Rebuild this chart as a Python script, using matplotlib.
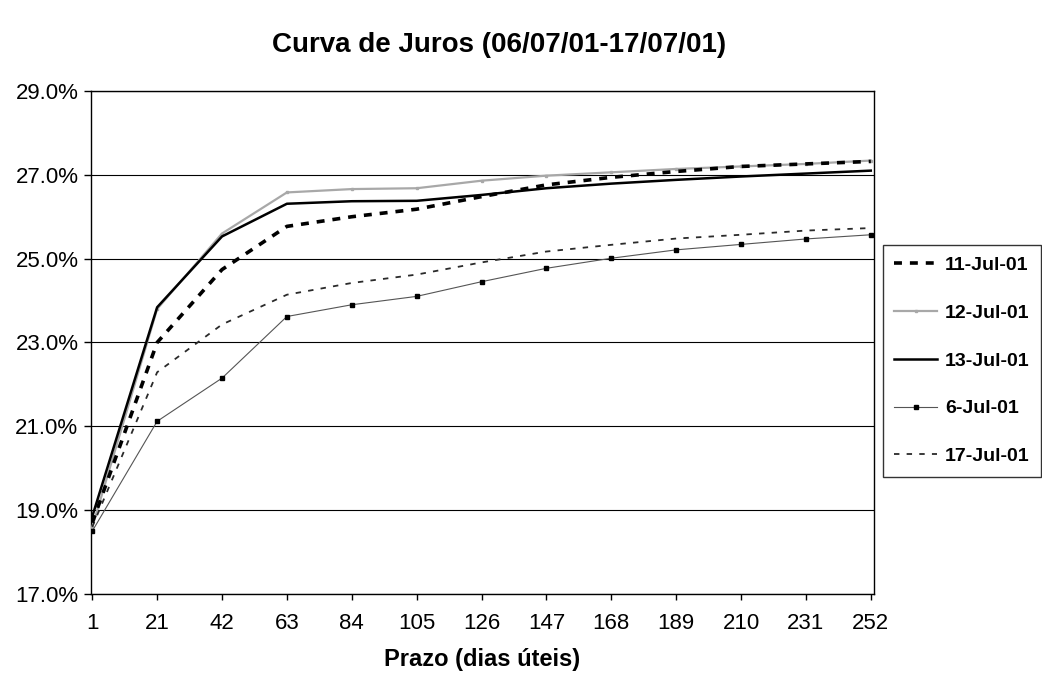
import matplotlib
matplotlib.use('Agg')
import matplotlib.pyplot as plt
from matplotlib.ticker import FuncFormatter

plt.rcParams['font.family'] = ['Liberation Sans', 'DejaVu Sans']

prazos = [1, 21, 42, 63, 84, 105, 126, 147, 168, 189, 210, 231, 252]
jul11 = [18.7, 23.0, 24.74, 25.77, 26.0, 26.18, 26.48, 26.76, 26.94, 27.08, 27.2, 27.26, 27.32]
jul12 = [18.6, 23.8, 25.6, 26.58, 26.66, 26.68, 26.86, 26.98, 27.06, 27.14, 27.2, 27.26, 27.34]
jul13 = [18.85, 23.84, 25.53, 26.31, 26.37, 26.38, 26.52, 26.68, 26.79, 26.88, 26.96, 27.03, 27.1]
jul06 = [18.5, 21.12, 22.15, 23.62, 23.9, 24.1, 24.45, 24.77, 25.01, 25.21, 25.34, 25.47, 25.57]
jul17 = [18.6, 22.29, 23.43, 24.14, 24.42, 24.62, 24.91, 25.17, 25.33, 25.48, 25.57, 25.67, 25.73]

x = list(range(len(prazos)))

fig = plt.figure(figsize=(10.42, 6.74), dpi=100)
ax = fig.add_axes([0.0873, 0.1187, 0.7515, 0.7463])

ax.plot(x, jul11, color='black', lw=2.6, dashes=(2.2, 2.2), label='11-Jul-01', zorder=4)
ax.plot(x, jul12, color='#a8a8a8', lw=1.6, marker='s', markersize=2, label='12-Jul-01', zorder=3)
ax.plot(x, jul13, color='black', lw=1.8, label='13-Jul-01', zorder=3)
ax.plot(x, jul06, color='#555555', lw=0.8, marker='s', markersize=3.2,
        markerfacecolor='black', markeredgecolor='black', label='6-Jul-01', zorder=3)
ax.plot(x, jul17, color='#2a2a2a', lw=1.3, dashes=(3, 4), label='17-Jul-01', zorder=3)

ax.set_xlim(-0.02, 12.05)
ax.set_ylim(17, 29)
ax.set_yticks([17, 19, 21, 23, 25, 27, 29])
ax.yaxis.set_major_formatter(FuncFormatter(lambda v, p: f'{v:.1f}%'))
ax.set_xticks(x)
ax.set_xticklabels([str(p) for p in prazos])
ax.yaxis.grid(True, color='black', lw=0.8)
ax.set_axisbelow(True)
ax.tick_params(axis='both', labelsize=16, width=1, direction='out')
ax.tick_params(axis='y', length=5, pad=4)
ax.tick_params(axis='x', length=4, pad=10)
for s in ax.spines.values():
    s.set_linewidth(1.0)

ax.set_xlabel('Prazo (dias úteis)', fontsize=17, fontweight='bold', labelpad=10)
fig.text(0.479, 0.933, 'Curva de Juros (06/07/01-17/07/01)', ha='center', va='center',
         fontsize=20, fontweight='bold')

leg = ax.legend(loc='upper left', bbox_to_anchor=(1.011, 0.694), frameon=True, fancybox=False,
                edgecolor='black', prop={'weight': 'bold', 'size': 14},
                handlelength=2.2, labelspacing=1.55, borderpad=0.6, handletextpad=0.4,
                borderaxespad=0)
leg.get_frame().set_linewidth(1.0)

fig.savefig('out.png', dpi=100)
